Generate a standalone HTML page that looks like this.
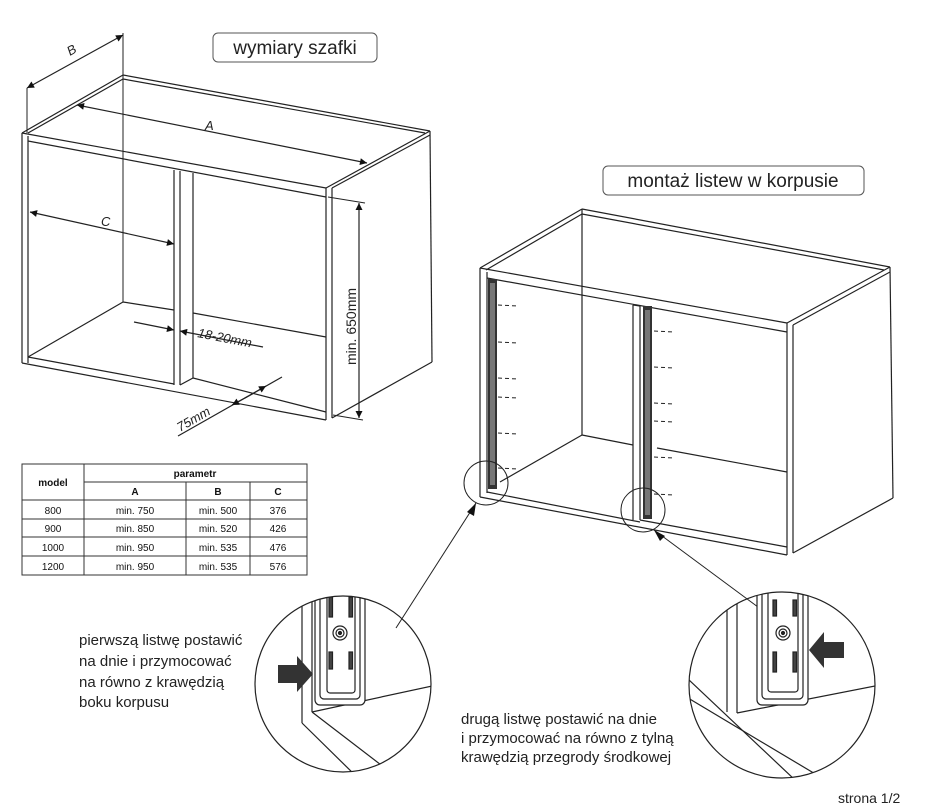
<!DOCTYPE html>
<html><head><meta charset="utf-8"><style>
html,body{margin:0;padding:0;background:#fff;}
svg{display:block;font-family:"Liberation Sans",sans-serif;}
</style></head><body>
<svg width="931" height="808" viewBox="0 0 931 808" xmlns="http://www.w3.org/2000/svg">
<defs>
<marker id="ar" viewBox="0 0 10 10" refX="10" refY="5" markerWidth="14" markerHeight="7" orient="auto-start-reverse" markerUnits="userSpaceOnUse"><path d="M0,0 L10,5 L0,10 z" fill="#111"/></marker>
<clipPath id="c1"><circle cx="343" cy="684" r="88"/></clipPath>
<clipPath id="c2"><circle cx="782" cy="685" r="93"/></clipPath>
</defs>
<g stroke="#222" stroke-width="1.2" fill="none">
<!-- LEFT CABINET -->
<line x1="22" y1="133" x2="123" y2="75"/>
<line x1="28" y1="133" x2="123" y2="79"/>
<line x1="123" y1="75" x2="430" y2="131"/>
<line x1="123" y1="79" x2="425" y2="133"/>
<line x1="22" y1="133" x2="326" y2="188"/>
<line x1="326" y1="188" x2="430" y2="131"/>
<line x1="332" y1="188" x2="430" y2="135"/>
<line x1="22" y1="133" x2="22" y2="363"/>
<line x1="28" y1="136" x2="28" y2="363"/>
<line x1="28" y1="141" x2="326" y2="197"/>
<line x1="326" y1="188" x2="326" y2="420"/>
<line x1="332" y1="188" x2="332" y2="418"/>
<line x1="430" y1="131" x2="432" y2="362"/>
<line x1="332" y1="418" x2="432" y2="362"/>
<line x1="22" y1="363" x2="326" y2="420"/>
<line x1="28" y1="357" x2="174" y2="384"/>
<line x1="193" y1="378" x2="326" y2="412"/>
<line x1="28" y1="357" x2="123" y2="302"/>
<line x1="123" y1="302" x2="174" y2="310"/>
<line x1="193" y1="313" x2="326" y2="337"/>
<line x1="123" y1="33" x2="123" y2="302" stroke-width="1"/>
<line x1="174" y1="170" x2="174" y2="385"/>
<line x1="180" y1="171" x2="180" y2="385"/>
<line x1="193" y1="173" x2="193" y2="378"/>
<line x1="180" y1="385" x2="193" y2="378"/>
<!-- dims -->
<line x1="27" y1="88" x2="27" y2="133" stroke-width="1"/>
<line x1="27" y1="88" x2="123" y2="35" marker-start="url(#ar)" marker-end="url(#ar)"/>
<line x1="77" y1="105" x2="367" y2="163" marker-start="url(#ar)" marker-end="url(#ar)"/>
<line x1="30" y1="212" x2="174" y2="244" marker-start="url(#ar)" marker-end="url(#ar)"/>
<line x1="328" y1="197" x2="365" y2="203" stroke-width="1"/>
<line x1="333" y1="415" x2="363" y2="420" stroke-width="1"/>
<line x1="359" y1="203" x2="359" y2="418" marker-start="url(#ar)" marker-end="url(#ar)"/>
<line x1="134" y1="322" x2="174" y2="330" marker-end="url(#ar)"/>
<line x1="263" y1="347" x2="180" y2="331" marker-end="url(#ar)"/>
<line x1="282" y1="377" x2="178" y2="436"/>
<line x1="245" y1="398" x2="266" y2="386" marker-end="url(#ar)"/>
<line x1="254" y1="393" x2="232" y2="405" marker-end="url(#ar)"/>
<!-- RIGHT CABINET -->
<line x1="480" y1="268" x2="582" y2="209"/>
<line x1="486" y1="270" x2="582" y2="214"/>
<line x1="582" y1="209" x2="890" y2="267"/>
<line x1="582" y1="214" x2="884" y2="270"/>
<line x1="480" y1="268" x2="787" y2="323"/>
<line x1="787" y1="323" x2="890" y2="267"/>
<line x1="793" y1="325" x2="890" y2="272"/>
<line x1="480" y1="268" x2="480" y2="497"/>
<line x1="487" y1="272" x2="487" y2="493"/>
<line x1="487" y1="278" x2="787" y2="332"/>
<line x1="787" y1="323" x2="787" y2="555"/>
<line x1="793" y1="325" x2="793" y2="553"/>
<line x1="890" y1="267" x2="893" y2="498"/>
<line x1="793" y1="553" x2="893" y2="498"/>
<line x1="480" y1="497" x2="787" y2="555"/>
<line x1="487" y1="492" x2="640" y2="522"/>
<line x1="640" y1="520" x2="787" y2="547"/>
<line x1="500" y1="482" x2="582" y2="435"/>
<line x1="582" y1="209" x2="582" y2="435"/>
<line x1="582" y1="435" x2="633" y2="445"/>
<line x1="657" y1="448" x2="787" y2="472"/>
<line x1="633" y1="305" x2="633" y2="520"/>
<line x1="640" y1="306" x2="640" y2="520"/>
<line x1="633" y1="305" x2="640" y2="306"/>
</g>
<!-- rails -->
<rect x="488" y="279" width="9" height="210" fill="#333"/>
<rect x="490" y="283" width="5" height="202" fill="#777"/>
<rect x="643" y="306" width="9" height="213" fill="#333"/>
<rect x="645" y="310" width="5" height="205" fill="#777"/>
<g stroke="#222" stroke-width="1" stroke-dasharray="4,3">
<line x1="498" y1="305" x2="518" y2="306"/><line x1="498" y1="342" x2="518" y2="343"/><line x1="498" y1="378" x2="518" y2="379"/><line x1="498" y1="397" x2="518" y2="398"/><line x1="498" y1="433" x2="518" y2="434"/><line x1="498" y1="468" x2="518" y2="469"/>
<line x1="654" y1="331" x2="674" y2="332"/><line x1="654" y1="367" x2="674" y2="368"/><line x1="654" y1="403" x2="674" y2="404"/><line x1="654" y1="421" x2="674" y2="422"/><line x1="654" y1="457" x2="674" y2="458"/><line x1="654" y1="494" x2="674" y2="495"/>
</g>
<g fill="none" stroke="#222" stroke-width="1">
<circle cx="486" cy="483" r="22"/>
<circle cx="643" cy="510" r="22"/>
<line x1="476" y1="503" x2="396" y2="628"/>
<line x1="654" y1="530" x2="762" y2="610"/>
</g>
<path d="M476,503 l-2,13 l-7,-4 z" fill="#111"/>
<path d="M654,530 l11,6 l-5,5 z" fill="#111"/>
<!-- detail circle 1 -->
<g clip-path="url(#c1)" stroke="#222" stroke-width="1.2" fill="none">
<line x1="302" y1="590" x2="302" y2="723"/>
<line x1="312" y1="590" x2="312" y2="712"/>
<line x1="302" y1="723" x2="360" y2="780"/>
<line x1="312" y1="712" x2="385" y2="768"/>
<line x1="312" y1="712" x2="432" y2="686"/>
<rect x="315" y="585" width="50" height="120" rx="5" fill="#fff"/>
<rect x="320" y="585" width="40" height="114" rx="4"/>
<rect x="327" y="585" width="28" height="108" rx="3"/>
<rect x="329" y="597" width="3.5" height="20" fill="#444"/><rect x="349" y="597" width="3.5" height="20" fill="#444"/>
<rect x="329" y="652" width="3.5" height="17" fill="#444"/><rect x="349" y="652" width="3.5" height="17" fill="#444"/>
<circle cx="340" cy="633" r="7"/><circle cx="340" cy="633" r="4"/><circle cx="340" cy="633" r="1.5" fill="#222"/>
</g>
<circle cx="343" cy="684" r="88" fill="none" stroke="#222" stroke-width="1.2"/>
<path d="M278,665 h19 v-9 l16,18 l-16,18 v-9 h-19 z" fill="#333"/>
<!-- detail circle 2 -->
<g clip-path="url(#c2)" stroke="#222" stroke-width="1.2" fill="none">
<line x1="727" y1="585" x2="727" y2="712"/>
<line x1="737" y1="585" x2="737" y2="713"/>
<line x1="687" y1="678" x2="795" y2="780"/>
<line x1="688" y1="698" x2="817" y2="775"/>
<line x1="737" y1="713" x2="885" y2="684"/>
<rect x="757" y="580" width="51" height="125" rx="5" fill="#fff"/>
<rect x="762" y="580" width="41" height="119" rx="4"/>
<rect x="768" y="580" width="30" height="112" rx="3"/>
<rect x="773" y="600" width="3.5" height="16" fill="#444"/><rect x="793" y="600" width="3.5" height="16" fill="#444"/>
<rect x="773" y="652" width="3.5" height="20" fill="#444"/><rect x="793" y="652" width="3.5" height="20" fill="#444"/>
<circle cx="783" cy="633" r="7"/><circle cx="783" cy="633" r="4"/><circle cx="783" cy="633" r="1.5" fill="#222"/>
</g>
<circle cx="782" cy="685" r="93" fill="none" stroke="#222" stroke-width="1.2"/>
<path d="M844,642 h-20 v-10 l-15,18 l15,18 v-10 h20 z" fill="#333"/>
<!-- labels -->
<rect x="213" y="33" width="164" height="29" rx="5" fill="#fff" stroke="#555"/>
<text x="295" y="54" font-size="19" text-anchor="middle" fill="#222">wymiary szafki</text>
<rect x="603" y="166" width="261" height="29" rx="5" fill="#fff" stroke="#555"/>
<text x="733" y="187" font-size="19" text-anchor="middle" fill="#222">montaż listew w korpusie</text>
<g font-size="13" fill="#222" font-style="italic">
<text x="70" y="56" transform="rotate(-30 70 56)">B</text>
<text x="205" y="130">A</text>
<text x="101" y="226">C</text>
<text x="197" y="337" transform="rotate(11 197 337)">18-20mm</text>
<text x="180" y="432" transform="rotate(-30 180 432)">75mm</text>
</g>
<text x="356" y="365" font-size="14" fill="#222" transform="rotate(-90 356 365)">min. 650mm</text>
<!-- table -->
<g stroke="#333" stroke-width="1" fill="none">
<rect x="22" y="464" width="285" height="111"/>
<line x1="84" y1="464" x2="84" y2="575"/>
<line x1="84" y1="482" x2="307" y2="482"/>
<line x1="22" y1="500" x2="307" y2="500"/>
<line x1="22" y1="519" x2="307" y2="519"/>
<line x1="22" y1="537" x2="307" y2="537"/>
<line x1="22" y1="556" x2="307" y2="556"/>
<line x1="186" y1="482" x2="186" y2="575"/>
<line x1="250" y1="482" x2="250" y2="575"/>
</g>
<g font-size="10" fill="#111" text-anchor="middle">
<text x="53" y="486" font-weight="bold">model</text>
<text x="195" y="477" font-weight="bold">parametr</text>
<text x="135" y="495" font-weight="bold">A</text><text x="218" y="495" font-weight="bold">B</text><text x="278" y="495" font-weight="bold">C</text>
<text x="53" y="514">800</text><text x="135" y="514">min. 750</text><text x="218" y="514">min. 500</text><text x="278" y="514">376</text>
<text x="53" y="532">900</text><text x="135" y="532">min. 850</text><text x="218" y="532">min. 520</text><text x="278" y="532">426</text>
<text x="53" y="551">1000</text><text x="135" y="551">min. 950</text><text x="218" y="551">min. 535</text><text x="278" y="551">476</text>
<text x="53" y="570">1200</text><text x="135" y="570">min. 950</text><text x="218" y="570">min. 535</text><text x="278" y="570">576</text>
</g>
<g font-size="15" fill="#222">
<text x="79" y="645">pierwszą listwę postawić</text>
<text x="79" y="666">na dnie i przymocować</text>
<text x="79" y="687">na równo z krawędzią</text>
<text x="79" y="707">boku korpusu</text>
<text x="461" y="724">drugą listwę postawić na dnie</text>
<text x="461" y="743">i przymocować na równo z tylną</text>
<text x="461" y="762">krawędzią przegrody środkowej</text>
<text x="838" y="803" font-size="14">strona 1/2</text>
</g>
</svg>
</body></html>
